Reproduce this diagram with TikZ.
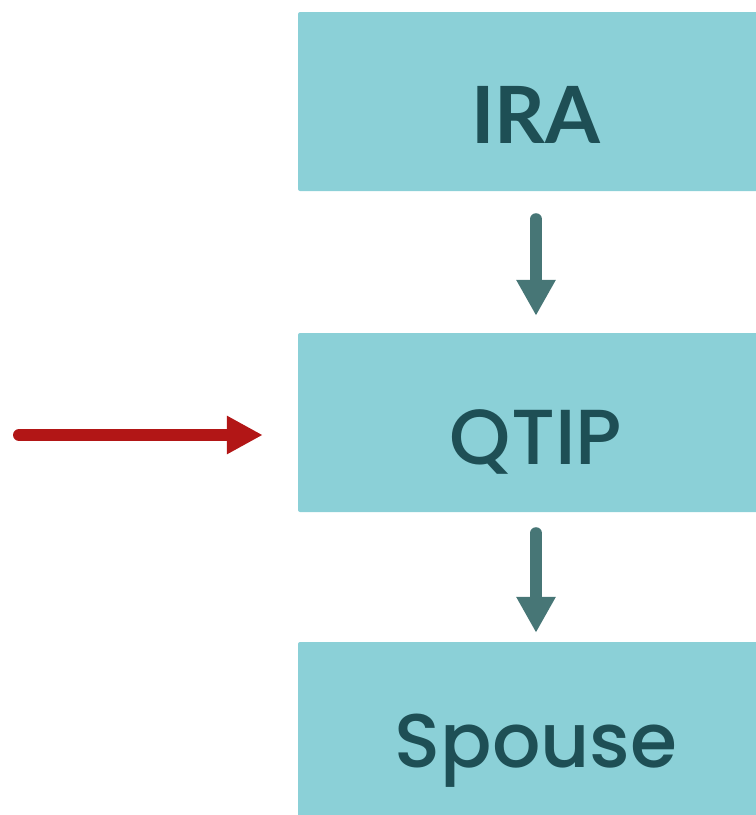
\documentclass[tikz,border=0pt]{standalone}
\usepackage{fontspec}
\setmainfont{Poppins}
\newfontfamily\latofont{Lato}
\newfontfamily\popmed{Poppins Medium}
\usetikzlibrary{arrows.meta}
\definecolor{boxfill}{HTML}{8BD0D7}
\definecolor{boxtext}{HTML}{1E4F55}
\definecolor{arrowteal}{HTML}{477676}
\definecolor{arrowred}{HTML}{B21616}
\tikzset{
  flowbox/.style={rectangle, rounded corners=2pt, fill=boxfill, draw=none,
    minimum width=476pt, minimum height=179pt, inner sep=0pt,
    text=boxtext, font=\fontsize{80}{80}\selectfont, text depth=0pt},
  downarrow/.style={draw=arrowteal, line width=12pt, line cap=round,
    -{Triangle[width=37pt,length=36pt]}},
  redarrow/.style={draw=arrowred, line width=12pt, line cap=round,
    -{Triangle[width=36pt,length=36pt]}}
}
\begin{document}
\begin{tikzpicture}[x=1pt,y=-1pt]
\useasboundingbox (0,0) rectangle (756,815);
\node[flowbox, text height=83pt, font=\latofont\bfseries\fontsize{79}{79}\selectfont] (ira) at (536,101.5) {IRA};
\node[flowbox, text height=83pt, font=\popmed\fontsize{78}{78}\selectfont] (qtip) at (536,422.5) {QTIP};
\node[flowbox, text height=72pt, font=\popmed\fontsize{76}{76}\selectfont] (spouse) at (536,731.5) {Spouse};
\coordinate (redstart) at (19,435);
\draw[downarrow, shorten <=28pt, shorten >=17pt] (ira.south) -- (qtip.north);
\draw[downarrow, shorten <=21pt, shorten >=9pt] (qtip.south) -- (spouse.north);
\draw[redarrow, shorten >=35pt] (redstart) -- (redstart -| qtip.west);
\end{tikzpicture}
\end{document}
